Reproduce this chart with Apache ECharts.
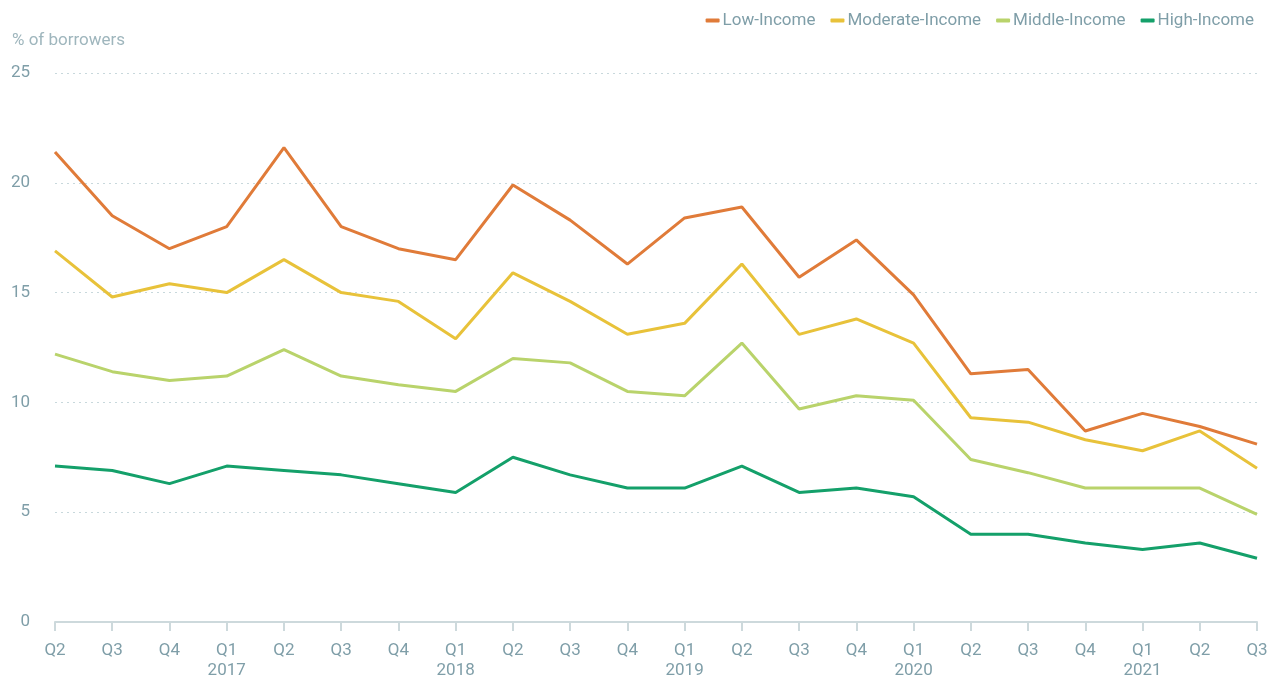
<!DOCTYPE html>
<html>
<head>
<meta charset="utf-8">
<title>Borrowers by income</title>
<script src="https://cdn.jsdelivr.net/npm/echarts@6/dist/echarts.min.js"></script>
<style>
    html, body { margin: 0; padding: 0; background: #fff; }
    #chart { width: 1278px; height: 681px; }
</style>
</head>
<body>
<div id="chart"></div>
<script>
// 季度标签（2016 Q2 - 2021 Q3）
const quarters = ['Q2', 'Q3', 'Q4', 'Q1', 'Q2', 'Q3', 'Q4', 'Q1', 'Q2', 'Q3', 'Q4',
    'Q1', 'Q2', 'Q3', 'Q4', 'Q1', 'Q2', 'Q3', 'Q4', 'Q1', 'Q2', 'Q3'];
const years = ['', '', '', '2017', '', '', '', '2018', '', '', '',
    '2019', '', '', '', '2020', '', '', '', '2021', '', ''];

const lowIncome = [21.4, 18.5, 17.0, 18.0, 21.6, 18.0, 17.0, 16.5, 19.9, 18.3, 16.3,
    18.4, 18.9, 15.7, 17.4, 14.9, 11.3, 11.5, 8.7, 9.5, 8.9, 8.1];
const moderateIncome = [16.9, 14.8, 15.4, 15.0, 16.5, 15.0, 14.6, 12.9, 15.9, 14.6, 13.1,
    13.6, 16.3, 13.1, 13.8, 12.7, 9.3, 9.1, 8.3, 7.8, 8.7, 7.0];
const middleIncome = [12.2, 11.4, 11.0, 11.2, 12.4, 11.2, 10.8, 10.5, 12.0, 11.8, 10.5,
    10.3, 12.7, 9.7, 10.3, 10.1, 7.4, 6.8, 6.1, 6.1, 6.1, 4.9];
const highIncome = [7.1, 6.9, 6.3, 7.1, 6.9, 6.7, 6.3, 5.9, 7.5, 6.7, 6.1,
    6.1, 7.1, 5.9, 6.1, 5.7, 4.0, 4.0, 3.6, 3.3, 3.6, 2.9];

const yTicks = [0, 5, 10, 15, 20, 25];

const textColor = '#7f9ea8';
const fontFamily = 'Roboto, sans-serif';

function initChart() {
    const chartDom = document.getElementById('chart');
    const myChart = echarts.init(chartDom);

    const categories = quarters.map((q, i) => years[i] ? q + '\n' + years[i] : q);

    const makeSeries = (name, data, color) => ({
        name: name,
        type: 'line',
        data: data,
        symbol: 'none',
        lineStyle: { color: color, width: 3 },
        itemStyle: { color: color }
    });

    const option = {
        backgroundColor: '#fff',
        animation: false,
        textStyle: { fontFamily: fontFamily },
        grid: {
            top: 73,
            left: 55,
            right: 21,
            bottom: 59
        },
        legend: {
            top: 7,
            right: 19,
            icon: 'roundRect',
            itemWidth: 14,
            itemHeight: 4,
            itemGap: 15,
            textStyle: { color: textColor, fontSize: 17, fontFamily: fontFamily, padding: [0, 0, 0, -2] }
        },
        graphic: [{
            type: 'text',
            left: 12,
            top: 32,
            style: { text: '% of borrowers', fill: '#9fb6bd', font: '17px Roboto, sans-serif' }
        }],
        xAxis: {
            type: 'category',
            data: categories,
            boundaryGap: false,
            axisLine: { lineStyle: { color: '#cdd9dc', width: 2 } },
            axisTick: { show: true, length: 9, lineStyle: { color: '#cdd9dc', width: 2 } },
            axisLabel: {
                color: textColor,
                fontSize: 17,
                lineHeight: 20,
                margin: 19,
                interval: 0
            }
        },
        yAxis: {
            type: 'value',
            min: yTicks[0],
            max: yTicks[yTicks.length - 1],
            interval: 5,
            axisLine: { show: false },
            axisTick: { show: false },
            axisLabel: { color: textColor, fontSize: 17, margin: 25 },
            splitLine: {
                lineStyle: { color: '#c8d8dc', type: [2, 4], width: 1 }
            }
        },
        series: [
            makeSeries('Low-Income', lowIncome, '#e07b39'),
            makeSeries('Moderate-Income', moderateIncome, '#e8c23a'),
            makeSeries('Middle-Income', middleIncome, '#b9d36b'),
            makeSeries('High-Income', highIncome, '#14a06a')
        ]
    };

    myChart.setOption(option);

    window.addEventListener('resize', () => {
        myChart.resize();
    });
}

initChart();
</script>
</body>
</html>
